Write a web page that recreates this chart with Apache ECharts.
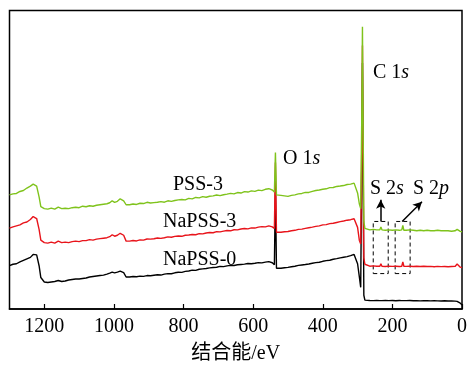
<!DOCTYPE html>
<html>
<head>
<meta charset="utf-8">
<script src="https://cdn.jsdelivr.net/npm/echarts@6/dist/echarts.min.js"></script>
<style>
  html, body { margin: 0; padding: 0; background: #fff; }
  #chart { width: 470px; height: 369px; }
</style>
</head>
<body>
<div id="chart"></div>
<script>
// binding energy (eV), shared by the three spectra
const energy = [1300,1290,1280,1270,1260,1250,1240,1232,1228,
  1222,1215,1210,
  1200,1190,1180,1170,1160,1150,1140,1130,1120,1110,1100,1090,1080,1070,1060,1050,1040,1030,1020,1012,
  1005,998,990,982,978,972,965,
  955,945,935,925,915,905,895,885,875,865,855,845,835,825,815,805,795,785,775,765,755,745,735,725,715,705,695,685,675,665,655,645,635,625,615,605,595,585,575,565,555,
  550,545,539,536,533,528,
  520,510,500,490,480,470,460,450,440,430,420,410,400,390,380,370,360,350,340,330,320,310,
  305,300,295,291,288,286,284,282,279,275,
  265,255,245,236,233,230,220,210,200,190,180,173,170,167,
  160,150,140,130,120,110,100,90,80,70,60,50,40,30,20,14,10,5,0];

// intensity, arbitrary units
const pss3 = [116,117,117.5,119.5,120.5,123,125,127,128.5,
  125,114,104,
  102,101.5,102.5,101.5,103.5,102,102.5,102,103,103.5,103,104.5,104,105,104.5,105.5,106,106.5,107,108,
  110,108.5,109.5,112,112.5,110,106,
  106,106.8,106.3,107.5,107.2,108.5,107.8,108.2,108.6,109.2,108.6,110,109.4,110.3,110.9,111.4,111,112.5,112,113.4,113,114.2,113.6,114.6,115,115.9,115.3,116.2,116.8,117.6,117,118.4,117.9,119.3,118.9,120.1,119.6,120.9,120.4,121.7,122.3,
  123,121,119,159,116,115.5,
  115.5,115,114.5,115.5,116,117,117.5,118.6,118.5,119.6,120.5,121,121.8,122.2,123.4,123.5,124.6,125,125.5,126.6,127,128,
  126.5,118,107,102,194,287,184,89,82,81,
  80.5,81,80.5,80.5,83.5,80.5,80,80.5,80,80.5,80,80.5,85,80,
  80,80.5,80,79.5,80,79.5,80,79.5,79.5,80,79.5,79.5,79.5,79,79.5,81,80.5,79,78.5];

const napss3 = [82.3,83.5,84.5,85.5,87.5,88.5,91,94,95.5,
  92,81,70,
  67.5,67,68,67,69,67.5,68,67.5,68.5,69,68.5,69.5,69.5,70.5,70,71,71.5,72,72.5,73.5,
  75.5,74,75,77,77.5,75,69,
  69,69.6,69.2,70.3,70,71.2,71,71.4,72.2,71.8,72.5,73.3,72.9,73.8,74.2,73.9,75,75.2,75.8,75.5,76.6,76.4,77.3,77.8,77.5,78.6,78.4,79.2,79.8,79.5,80.6,80.4,81.3,81.8,81.5,82.5,82.3,83.2,83.8,83.5,84.5,
  85,83.5,82,149,78,77.5,
  78,78.5,78.8,79.6,80,81,81.2,82,82.6,83.2,84,84.5,85.5,85.8,86.8,87.2,88,88.8,89.5,90.3,90.8,91.8,
  92.3,83,70,66,165,268,155,52,45.5,44.5,
  43.5,43.8,43.5,43.5,46,43.5,43.2,43.6,43.3,43.5,43.2,43.5,48,43.5,
  43.3,43.5,43.2,43.4,43.2,43.5,43.2,43.3,43,43.3,43.1,43.2,43,43.2,43.3,45.7,44.5,42.5,42];

const napss0 = [44,45.5,46,48,49.5,51,52.5,55.5,57.3,
  55,44,32,
  27.5,27,27.5,28,29,28,28.5,29.5,30,30.5,30.5,31,31.5,32.5,33,33.5,34,34.5,35.5,36.5,
  37.5,36.8,37.5,38.5,39,37,32.5,
  32.5,33,32.8,33.4,33.2,34,33.8,34.3,34.8,34.5,35.4,36,35.8,36.8,37.3,37.2,38.2,38.6,39.5,39.3,40.4,40.8,41.2,41.8,42.2,42.5,43.3,43.1,43.8,44.4,44.2,45,45.3,45.6,46.2,46,46.5,47.1,46.9,47.6,48.2,
  48.5,47,45,124,41.5,41.5,
  41.5,42,42.3,43,43.5,44.3,44.8,45.2,45.8,46.5,47.2,47.5,48.5,49.2,49.6,50.6,51.2,52,52.6,53.2,54.2,55.5,
  55,46,33,22,150,250,140,14,9,8.5,
  8.6,8.5,8.7,8.5,8.6,8.5,8.7,8.5,8.6,8.4,8.6,8.5,8.7,8.5,
  8.5,8.6,8.4,8.5,8.3,8.5,8.4,8.3,8.5,8.3,8.2,8.4,8.2,8.1,8,7.8,7.5,6,4];

const seriesNames = ['NaPSS-0', 'NaPSS-3', 'PSS-3'];
const seriesColors = ['#000000', '#e8141b', '#7fc31c'];
const xTicks = [0, 200, 400, 600, 800, 1000, 1200];

// dashed boxes around S 2s / S 2p and the arrows pointing at their labels
const boxS2s = [255, 212];
const boxS2p = [192, 149];
const boxY = [36, 89];

const font = '"Liberation Serif", "Times New Roman", "Noto Sans CJK SC", serif';

const chart = echarts.init(document.getElementById('chart'), null, { renderer: 'canvas' });

function pairs(vals) {
  return energy.map((e, i) => [e, vals[i]]);
}

const option = {
  animation: false,
  backgroundColor: '#fff',
  grid: {
    left: 9.5, right: 5.7, top: 10.5, bottom: 55,
    show: true, borderColor: '#000', borderWidth: 1.5
  },
  xAxis: {
    type: 'value',
    min: 0, max: 1300, interval: 200,
    inverse: true,
    name: '结合能/eV',
    nameLocation: 'middle',
    nameGap: 35,
    nameTextStyle: { fontFamily: font, fontSize: 20, color: '#000' },
    axisLine: { show: true, lineStyle: { color: '#000', width: 1.5 } },
    axisTick: { inside: true, length: 5, lineStyle: { color: '#000', width: 1.2 } },
    axisLabel: {
      margin: 8, fontFamily: font, fontSize: 20, color: '#000',
      showMaxLabel: false,
      formatter: v => (xTicks.indexOf(v) >= 0 ? String(v) : '')
    },
    splitLine: { show: false }
  },
  yAxis: {
    type: 'value', min: 0, max: 303.5,
    axisLine: { show: false }, axisTick: { show: false },
    axisLabel: { show: false }, splitLine: { show: false }
  },
  series: [
    {
      name: seriesNames[0], type: 'line', data: pairs(napss0),
      showSymbol: false, symbol: 'none',
      lineStyle: { color: seriesColors[0], width: 1.4 }
    },
    {
      name: seriesNames[1], type: 'line', data: pairs(napss3),
      showSymbol: false, symbol: 'none',
      lineStyle: { color: seriesColors[1], width: 1.4 }
    },
    {
      name: seriesNames[2], type: 'line', data: pairs(pss3),
      showSymbol: false, symbol: 'none',
      lineStyle: { color: seriesColors[2], width: 1.4 },
      markArea: {
        silent: true,
        itemStyle: { color: 'rgba(0,0,0,0)', borderColor: '#000', borderWidth: 1, borderType: [4, 3] },
        data: [
          [{ coord: [boxS2s[0], boxY[0]] }, { coord: [boxS2s[1], boxY[1]] }],
          [{ coord: [boxS2p[0], boxY[0]] }, { coord: [boxS2p[1], boxY[1]] }]
        ]
      },
      markLine: {
        silent: true,
        symbol: ['none', 'arrow'],
        symbolSize: [7, 9],
        label: { show: false },
        lineStyle: { color: '#000', width: 1.5, type: 'solid' },
        data: [
          [{ coord: [233.5, boxY[1]] }, { coord: [233.5, 111] }],
          [{ coord: [172, boxY[1]] }, { coord: [115, 109] }]
        ]
      }
    }
  ],
  graphic: [
    { type: 'text', left: 173, top: 175, style: { text: 'PSS-3', font: '20px ' + font, fill: '#000' } },
    { type: 'text', left: 163, top: 212, style: { text: 'NaPSS-3', font: '20px ' + font, fill: '#000' } },
    { type: 'text', left: 163, top: 250, style: { text: 'NaPSS-0', font: '20px ' + font, fill: '#000' } },
    { type: 'text', left: 283, top: 149, style: {
        text: '{a|O 1}{b|s}',
        rich: { a: { fontFamily: font, fontSize: 20, color: '#000' }, b: { fontFamily: font, fontSize: 20, fontStyle: 'italic', color: '#000' } }
    } },
    { type: 'text', left: 373, top: 63, style: {
        text: '{a|C 1}{b|s}',
        rich: { a: { fontFamily: font, fontSize: 20, color: '#000' }, b: { fontFamily: font, fontSize: 20, fontStyle: 'italic', color: '#000' } }
    } },
    { type: 'text', left: 370, top: 179, style: {
        text: '{a|S 2}{b|s}',
        rich: { a: { fontFamily: font, fontSize: 20, color: '#000' }, b: { fontFamily: font, fontSize: 20, fontStyle: 'italic', color: '#000' } }
    } },
    { type: 'text', left: 413, top: 179, style: {
        text: '{a|S 2}{b|p}',
        rich: { a: { fontFamily: font, fontSize: 20, color: '#000' }, b: { fontFamily: font, fontSize: 20, fontStyle: 'italic', color: '#000' } }
    } }
  ]
};

chart.setOption(option);
window.addEventListener('resize', function () {
  chart.resize();
});
</script>
</body>
</html>
